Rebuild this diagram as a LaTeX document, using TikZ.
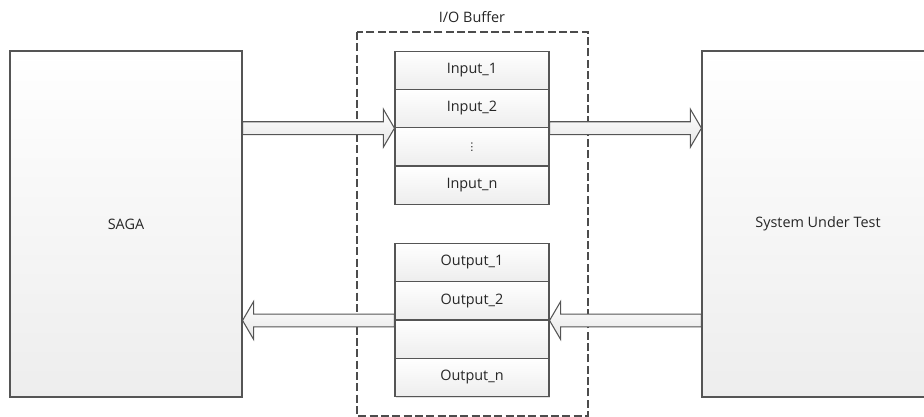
\documentclass[tikz,border=0pt]{standalone}
\usepackage{fontspec}
\setmainfont{Open Sans}
\newfontfamily\symfont{DejaVu Sans}
\usetikzlibrary{calc,shadows}
\definecolor{edge}{HTML}{555555}
\definecolor{txt}{HTML}{262626}
\tikzset{
  px/.style={x=0.75pt,y=-0.75pt},
  bigbox/.style={draw=edge, line width=0.8pt, top color=white, bottom color=black!7,
    minimum width=174pt, minimum height=259.5pt, inner sep=0pt, text=txt,
    font=\fontsize{10.8}{12}\selectfont,
    drop shadow={shadow xshift=1pt, shadow yshift=-1pt, fill=black!30, opacity=0.4}},
  cell/.style={draw=edge, line width=0.8pt, top color=white, bottom color=black!7,
    minimum width=115.5pt, minimum height=28.7pt, inner sep=0pt, text=txt,
    font=\fontsize{10.8}{12}\selectfont,
    drop shadow={shadow xshift=0.8pt, shadow yshift=-0.8pt, fill=black!30, opacity=0.4}},
  barrow/.style={draw=edge, line width=0.8pt, top color=white, bottom color=black!10, line join=miter},
  bufframe/.style={draw=black!70, line width=0.8pt, dash pattern=on 6pt off 2.5pt},
  lbl/.style={text=txt, font=\fontsize{10.8}{12}\selectfont, inner sep=0pt}
}
\newcommand\blockarrow[2]{%
  \path[barrow] let \p1=(#1), \p2=(#2), \p3=($(#2)!8.3pt!(#1)$) in
    (\x1,\y1+4.8pt) -- (\x3,\y1+4.8pt) -- (\x3,\y1+14.2pt) -- (\x2,\y2)
    -- (\x3,\y1-14.2pt) -- (\x3,\y1-4.8pt) -- (\x1,\y1-4.8pt) -- cycle;}
\begin{document}
\begin{tikzpicture}[px]
\useasboundingbox (0,0) rectangle (924,417);
% buffer frame
\draw[bufframe] (357,32) rectangle (588,416);
\node[lbl] (buflabel) at (472,17) {I/O Buffer};
% main boxes
\node[bigbox] (saga) at (126,224) {SAGA};
\node[bigbox] (sut) at (818,224) {System Under Test};
% input stack
\node[cell] (in1) at (472,70.2) {Input\_1};
\node[cell] (in2) at (472,108.5) {Input\_2};
\node[cell] (in3) at (472,146.8) {\symfont\fontsize{8}{9}\selectfont ⋮};
\node[cell] (in4) at (472,185.2) {Input\_n};
% output stack
\node[cell] (out1) at (472,262.5) {Output\_1};
\node[cell] (out2) at (472,300.8) {Output\_2};
\node[cell] (out3) at (472,339.2) {};
\node[cell] (out4) at (472,377.5) {Output\_n};
% arrows
\coordinate (a1t) at (saga.east |- in2.south west);
\coordinate (a2h) at (sut.west |- in2.south east);
\coordinate (a3h) at (saga.east |- out2.south west);
\coordinate (a4t) at (sut.west |- out2.south east);
\blockarrow{a1t}{in2.south west}
\blockarrow{in2.south east}{a2h}
\blockarrow{out2.south west}{a3h}
\blockarrow{a4t}{out2.south east}
\end{tikzpicture}
\end{document}
